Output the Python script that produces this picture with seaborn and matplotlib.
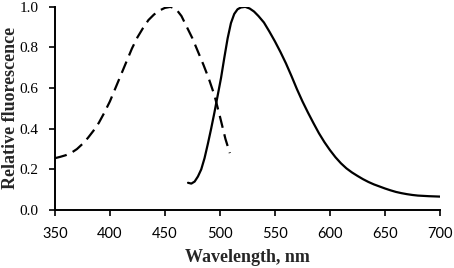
import pandas as pd
import matplotlib
matplotlib.use('Agg')
import matplotlib.pyplot as plt
import seaborn as sns

# excitation (dashed) spectrum
exc_nm = [350, 355, 360, 365, 370, 375, 380, 385, 390, 395, 400, 405, 410, 415, 420, 425,
          430, 435, 440, 445, 450, 455, 460, 465, 470, 475, 480, 485, 490, 495, 500, 505, 509]
exc_val = [0.255, 0.262, 0.270, 0.282, 0.300, 0.325, 0.355, 0.39, 0.43, 0.48, 0.535, 0.6,
           0.665, 0.73, 0.795, 0.85, 0.895, 0.935, 0.962, 0.982, 0.995, 1.0, 0.99, 0.955,
           0.9, 0.845, 0.78, 0.715, 0.645, 0.565, 0.46, 0.35, 0.28]

# emission (solid) spectrum
em_nm = [471, 474, 477, 480, 483, 486, 489, 492, 495, 498, 501, 504, 507, 510, 513, 516,
         519, 523, 527, 531, 535, 540, 545, 550, 555, 560, 565, 570, 575, 580, 585, 590,
         595, 600, 605, 610, 615, 620, 625, 630, 635, 640, 645, 650, 655, 660, 665, 670,
         675, 680, 690, 700]
em_val = [0.134, 0.13, 0.14, 0.165, 0.2, 0.255, 0.325, 0.4, 0.48, 0.565, 0.65, 0.75,
          0.845, 0.92, 0.965, 0.988, 0.997, 1.0, 0.992, 0.977, 0.955, 0.923, 0.878, 0.83,
          0.778, 0.722, 0.66, 0.595, 0.535, 0.48, 0.428, 0.378, 0.334, 0.295, 0.26, 0.23,
          0.205, 0.185, 0.168, 0.152, 0.138, 0.126, 0.116, 0.106, 0.097, 0.089, 0.083,
          0.078, 0.074, 0.071, 0.068, 0.066]

x_ticks = [350, 400, 450, 500, 550, 600, 650, 700]
y_ticks = [0.0, 0.2, 0.4, 0.6, 0.8, 1.0]

exc = pd.DataFrame({'nm': exc_nm, 'val': exc_val})
em = pd.DataFrame({'nm': em_nm, 'val': em_val})

sns.set_theme(style='ticks')
plt.rcParams['font.family'] = 'Liberation Serif'

fig = plt.figure(figsize=(4.54, 2.68), dpi=100)
ax = fig.add_axes([0.121, 0.2164, 0.848, 0.758])

sns.lineplot(data=exc, x='nm', y='val', ax=ax, color='black', linewidth=1.6, sort=False)
ax.lines[-1].set_dashes((5.5, 3))
sns.lineplot(data=em, x='nm', y='val', ax=ax, color='black', linewidth=1.6, sort=False)
for ln in ax.lines:
    ln.set_solid_joinstyle('round')
    ln.set_dash_joinstyle('round')

ax.set_xlim(350, 700)
ax.set_ylim(0, 1.0)
ax.set_xticks(x_ticks)
ax.set_xticklabels([str(t) for t in x_ticks], family='Lato', fontsize=10.5)
ax.set_yticks(y_ticks)
ax.set_yticklabels([f'{t:.1f}' for t in y_ticks], family='Liberation Serif', fontsize=11)

for s in ['top', 'right']:
    ax.spines[s].set_visible(False)
for s in ['left', 'bottom']:
    ax.spines[s].set_color('black')
    ax.spines[s].set_linewidth(1.4)
    ax.spines[s].set_clip_on(False)
ax.tick_params(axis='both', direction='out', length=4, width=1.2, color='black', labelcolor='black')
ax.tick_params(axis='x', pad=8)
ax.tick_params(axis='y', pad=8)

ax.set_xlabel('Wavelength, nm', fontsize=13, fontweight='bold', family='Liberation Serif', labelpad=6)
ax.set_ylabel('Relative fluorescence', fontsize=13, fontweight='bold', family='Liberation Serif', labelpad=0)

fig.savefig('out.png', dpi=100, facecolor='white')
